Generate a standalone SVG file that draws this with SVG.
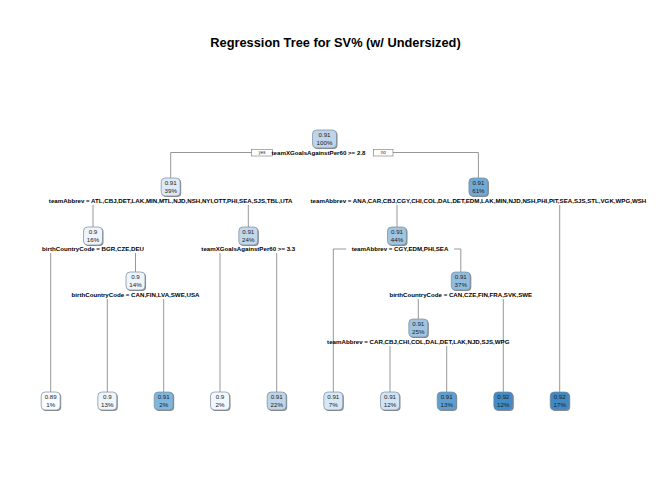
<svg xmlns="http://www.w3.org/2000/svg" width="672" height="480" viewBox="0 0 672 480">
<style>
.bg{fill:#ffffff}
.title{font-family:"Liberation Sans",Arial,sans-serif;font-size:12.8px;font-weight:bold;fill:#000;text-anchor:middle}
.lbl{font-family:"Liberation Sans",Arial,sans-serif;font-size:6.15px;font-weight:bold;fill:#000;text-anchor:middle}
.nt{font-family:"Liberation Sans",Arial,sans-serif;font-size:6.2px;fill:#222;text-anchor:middle}
.yn{font-family:"Liberation Sans",Arial,sans-serif;font-size:4.6px;fill:#333;text-anchor:middle}
.ynb{fill:#fff;stroke:#777;stroke-width:0.6}
.sh{fill:#8a8a8a}
.box{stroke:#7a8a99;stroke-width:0.7}
.edge{fill:none;stroke:#8c8c8c;stroke-width:0.9}
.wb{fill:#fff}
</style>
<rect class="bg" x="0" y="0" width="672" height="480"/>
<text class="title" x="335.5" y="46.5">Regression Tree for SV% (w/ Undersized)</text>

<g id="connectors">
  <path class="edge" d="M170.7,178 V152.5 H478.4 V178"/>
  <path class="edge" d="M93,205 V227 M248.3,205 V227"/>
  <path class="edge" d="M397,205 V227 M559.7,205 V392"/>
  <path class="edge" d="M50.7,253 V392 M135.5,253 V272"/>
  <path class="edge" d="M220,253 V392 M276.7,253 V392"/>
  <path class="edge" d="M333.3,392 V249 H460.8 V272"/>
  <path class="edge" d="M107.3,299 V392 M163.7,299 V392"/>
  <path class="edge" d="M418.3,299 V319 M503.3,299 V392"/>
  <path class="edge" d="M390,346 V392 M446.7,346 V392"/>
</g>

<g id="split-labels">
  <rect class="wb" x="272" y="149" width="101" height="7"/>
  <rect class="ynb" x="251.5" y="149.5" width="21" height="6.5"/>
  <text class="yn" x="262" y="154.4">yes</text>
  <rect class="ynb" x="373.5" y="149.5" width="19.5" height="6.5"/>
  <text class="yn" x="383.2" y="154.4">no</text>
  <text class="lbl" x="318.5" y="155">teamXGoalsAgainstPer60 &gt;= 2.8</text>
  <text class="lbl" x="170.7" y="203">teamAbbrev = ATL,CBJ,DET,LAK,MIN,MTL,NJD,NSH,NYI,OTT,PHI,SEA,SJS,TBL,UTA</text>
  <text class="lbl" x="478.4" y="203">teamAbbrev = ANA,CAR,CBJ,CGY,CHI,COL,DAL,DET,EDM,LAK,MIN,NJD,NSH,PHI,PIT,SEA,SJS,STL,VGK,WPG,WSH</text>
  <text class="lbl" x="93" y="251">birthCountryCode = BGR,CZE,DEU</text>
  <text class="lbl" x="248.3" y="251">teamXGoalsAgainstPer60 &gt;= 3.3</text>
  <rect class="wb" x="346" y="246" width="108" height="6"/>
  <text class="lbl" x="400" y="251">teamAbbrev = CGY,EDM,PHI,SEA</text>
  <text class="lbl" x="135.5" y="297">birthCountryCode = CAN,FIN,LVA,SWE,USA</text>
  <text class="lbl" x="460.8" y="297">birthCountryCode = CAN,CZE,FIN,FRA,SVK,SWE</text>
  <text class="lbl" x="418.3" y="344">teamAbbrev = CAR,CBJ,CHI,COL,DAL,DET,LAK,NJD,SJS,WPG</text>
</g>

<g id="n1"><rect class="sh" x="313.5" y="131" width="24" height="18" rx="4"/><rect class="box" x="312.5" y="130" width="24" height="18" rx="4" fill="#bdd4ea"/><text class="nt" x="324.5" y="137">0.91</text><text class="nt" x="324.5" y="145">100%</text></g>
<g id="n2"><rect class="sh" x="162.2" y="179" width="19" height="18" rx="4"/><rect class="box" x="161.2" y="178" width="19" height="18" rx="4" fill="#dde9f5"/><text class="nt" x="170.7" y="185">0.91</text><text class="nt" x="170.7" y="193">39%</text></g>
<g id="n3"><rect class="sh" x="469.9" y="179" width="19" height="18" rx="4"/><rect class="box" x="468.9" y="178" width="19" height="18" rx="4" fill="#72a9d4"/><text class="nt" x="478.4" y="185">0.91</text><text class="nt" x="478.4" y="193">61%</text></g>
<g id="n4"><rect class="sh" x="84.5" y="228" width="19" height="18" rx="4"/><rect class="box" x="83.5" y="227" width="19" height="18" rx="4" fill="#edf4fb"/><text class="nt" x="93" y="234">0.9</text><text class="nt" x="93" y="242">16%</text></g>
<g id="n5"><rect class="sh" x="239.8" y="228" width="19" height="18" rx="4"/><rect class="box" x="238.8" y="227" width="19" height="18" rx="4" fill="#c2d7ec"/><text class="nt" x="248.3" y="234">0.91</text><text class="nt" x="248.3" y="242">24%</text></g>
<g id="n6"><rect class="sh" x="388.5" y="228" width="19" height="18" rx="4"/><rect class="box" x="387.5" y="227" width="19" height="18" rx="4" fill="#9fc5e2"/><text class="nt" x="397" y="234">0.91</text><text class="nt" x="397" y="242">44%</text></g>
<g id="n7"><rect class="sh" x="127" y="273" width="19" height="18" rx="4"/><rect class="box" x="126" y="272" width="19" height="18" rx="4" fill="#edf4fb"/><text class="nt" x="135.5" y="279">0.9</text><text class="nt" x="135.5" y="287">14%</text></g>
<g id="n8"><rect class="sh" x="452.3" y="273" width="19" height="18" rx="4"/><rect class="box" x="451.3" y="272" width="19" height="18" rx="4" fill="#90bddf"/><text class="nt" x="460.8" y="279">0.91</text><text class="nt" x="460.8" y="287">37%</text></g>
<g id="n9"><rect class="sh" x="409.8" y="320" width="19" height="18" rx="4"/><rect class="box" x="408.8" y="319" width="19" height="18" rx="4" fill="#9dc4e1"/><text class="nt" x="418.3" y="326">0.91</text><text class="nt" x="418.3" y="334">25%</text></g>

<g id="leaf1"><rect class="sh" x="42.2" y="393" width="19" height="18" rx="4"/><rect class="box" x="41.2" y="392" width="19" height="18" rx="4" fill="#f8fbff"/><text class="nt" x="50.7" y="399">0.89</text><text class="nt" x="50.7" y="407">1%</text></g>
<g id="leaf2"><rect class="sh" x="98.8" y="393" width="19" height="18" rx="4"/><rect class="box" x="97.8" y="392" width="19" height="18" rx="4" fill="#eef5fb"/><text class="nt" x="107.3" y="399">0.9</text><text class="nt" x="107.3" y="407">13%</text></g>
<g id="leaf3"><rect class="sh" x="155.2" y="393" width="19" height="18" rx="4"/><rect class="box" x="154.2" y="392" width="19" height="18" rx="4" fill="#80b5dc"/><text class="nt" x="163.7" y="399">0.91</text><text class="nt" x="163.7" y="407">2%</text></g>
<g id="leaf4"><rect class="sh" x="211.5" y="393" width="19" height="18" rx="4"/><rect class="box" x="210.5" y="392" width="19" height="18" rx="4" fill="#f1f7fc"/><text class="nt" x="220" y="399">0.9</text><text class="nt" x="220" y="407">2%</text></g>
<g id="leaf5"><rect class="sh" x="268.2" y="393" width="19" height="18" rx="4"/><rect class="box" x="267.2" y="392" width="19" height="18" rx="4" fill="#bdd4ea"/><text class="nt" x="276.7" y="399">0.91</text><text class="nt" x="276.7" y="407">22%</text></g>
<g id="leaf6"><rect class="sh" x="324.8" y="393" width="19" height="18" rx="4"/><rect class="box" x="323.8" y="392" width="19" height="18" rx="4" fill="#d8e7f4"/><text class="nt" x="333.3" y="399">0.91</text><text class="nt" x="333.3" y="407">7%</text></g>
<g id="leaf7"><rect class="sh" x="381.5" y="393" width="19" height="18" rx="4"/><rect class="box" x="380.5" y="392" width="19" height="18" rx="4" fill="#d2e3f3"/><text class="nt" x="390" y="399">0.91</text><text class="nt" x="390" y="407">12%</text></g>
<g id="leaf8"><rect class="sh" x="438.2" y="393" width="19" height="18" rx="4"/><rect class="box" x="437.2" y="392" width="19" height="18" rx="4" fill="#5d9fd0"/><text class="nt" x="446.7" y="399">0.91</text><text class="nt" x="446.7" y="407">13%</text></g>
<g id="leaf9"><rect class="sh" x="494.8" y="393" width="19" height="18" rx="4"/><rect class="box" x="493.8" y="392" width="19" height="18" rx="4" fill="#418bc6"/><text class="nt" x="503.3" y="399">0.92</text><text class="nt" x="503.3" y="407">12%</text></g>
<g id="leaf10"><rect class="sh" x="551.2" y="393" width="19" height="18" rx="4"/><rect class="box" x="550.2" y="392" width="19" height="18" rx="4" fill="#3f88c4"/><text class="nt" x="559.7" y="399">0.92</text><text class="nt" x="559.7" y="407">17%</text></g>
</svg>
